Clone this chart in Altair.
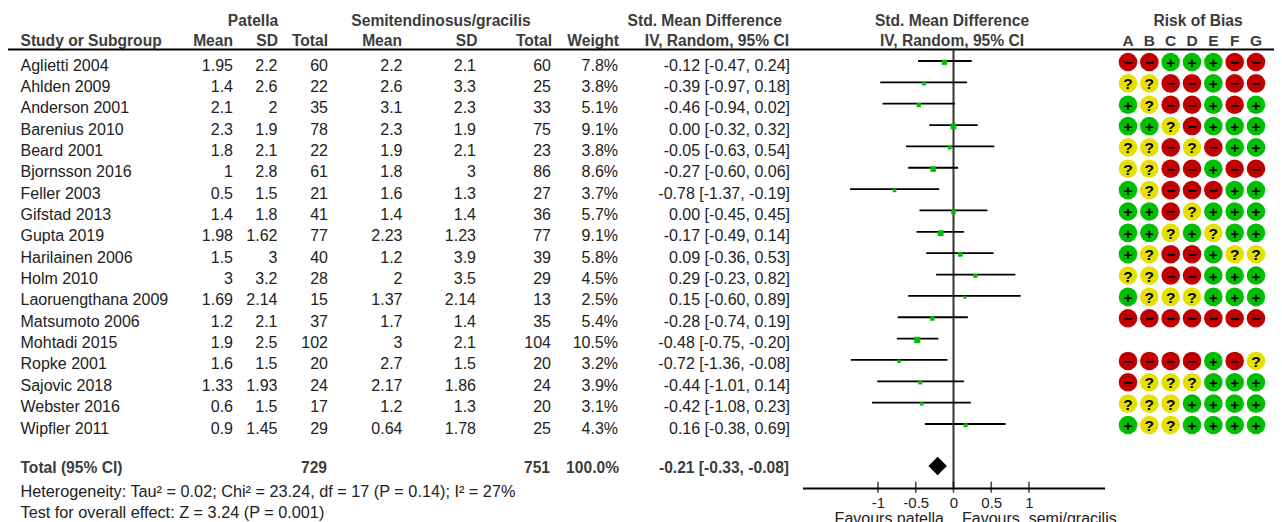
import altair as alt
import pandas as pd

FONT = "Liberation Sans"
studies = ["Aglietti 2004","Ahlden 2009","Anderson 2001","Barenius 2010","Beard 2001","Bjornsson 2016","Feller 2003","Gifstad 2013","Gupta 2019","Harilainen 2006","Holm 2010","Laoruengthana 2009","Matsumoto 2006","Mohtadi 2015","Ropke 2001","Sajovic 2018","Webster 2016","Wipfler 2011"]
mean1 = ["1.95","1.4","2.1","2.3","1.8","1","0.5","1.4","1.98","1.5","3","1.69","1.2","1.9","1.6","1.33","0.6","0.9"]
sd1 = ["2.2","2.6","2","1.9","2.1","2.8","1.5","1.8","1.62","3","3.2","2.14","2.1","2.5","1.5","1.93","1.5","1.45"]
total1 = ["60","22","35","78","22","61","21","41","77","40","28","15","37","102","20","24","17","29"]
mean2 = ["2.2","2.6","3.1","2.3","1.9","1.8","1.6","1.4","2.23","1.2","2","1.37","1.7","3","2.7","2.17","1.2","0.64"]
sd2 = ["2.1","3.3","2.3","1.9","2.1","3","1.3","1.4","1.23","3.9","3.5","2.14","1.4","2.1","1.5","1.86","1.3","1.78"]
total2 = ["60","25","33","75","23","86","27","36","77","39","29","13","35","104","20","24","20","25"]
weight = [7.8,3.8,5.1,9.1,3.8,8.6,3.7,5.7,9.1,5.8,4.5,2.5,5.4,10.5,3.2,3.9,3.1,4.3]
smd = [-0.12,-0.39,-0.46,0.00,-0.05,-0.27,-0.78,0.00,-0.17,0.09,0.29,0.15,-0.28,-0.48,-0.72,-0.44,-0.42,0.16]
ci_lo = [-0.47,-0.97,-0.94,-0.32,-0.63,-0.60,-1.37,-0.45,-0.49,-0.36,-0.23,-0.60,-0.74,-0.75,-1.36,-1.01,-1.08,-0.38]
ci_hi = [0.24,0.18,0.02,0.32,0.54,0.06,-0.19,0.45,0.14,0.53,0.82,0.89,0.19,-0.20,-0.08,0.14,0.23,0.69]
rob = ["--+++--","??--+--","+?--+-+","++?-+++","??-?-++","??--+--","+?---++","++-?+++","++?+?++","+?--+??","??--+++","+???+++","-------","       ","----+-?","-???+++","???++++","+??++++"]
letters = list("ABCDEFG")
pooled, pooled_lo, pooled_hi = -0.21, -0.33, -0.08
axis_ticks = [-1, -0.5, 0, 0.5, 1]

fmt = lambda v: f"{v:.2f}"
rows = list(range(len(studies)))
table = pd.DataFrame({
    "row": rows, "study": studies, "m1": mean1, "s1": sd1, "t1": total1,
    "m2": mean2, "s2": sd2, "t2": total2,
    "weight": weight, "w": [f"{w:.1f}%" for w in weight],
    "smd": smd, "lo": ci_lo, "hi": ci_hi,
    "ci": [f"{fmt(s)} [{fmt(l)}, {fmt(h)}]" for s, l, h in zip(smd, ci_lo, ci_hi)],
})
dots = pd.DataFrame([
    {"row": r, "domain": letters[i], "mark": {"+": "+", "-": "−", "?": "?"}[c], "kind": c}
    for r, s in enumerate(rob) for i, c in enumerate(s) if c != " "
])

TOTAL_ROW = 18.97
y_enc = alt.Y("row:Q", scale=alt.Scale(domain=[0, 17], range=[53, 416], zero=False, nice=False), axis=None)
x_forest = alt.Scale(domain=[-2, 2], range=[794.5, 1096.5], zero=False, nice=False)
x_rob = alt.Scale(type="point", domain=letters, range=[1120, 1248], padding=0)
x_none = lambda f: alt.X(f, scale=x_forest, axis=None)
BODY = 16
BOLD = 15.6
INK = "#222222"
HEAD = "#3c3c3c"


def col(field, px, align="right"):
    return alt.Chart(table).mark_text(align=align, baseline="middle", dy=4.5, font=FONT, fontSize=BODY, color=INK).encode(
        x=alt.value(px - 8), y=y_enc, text=f"{field}:N")


def label(txt, px, py, align="right", bold=True, size=None, color=None):
    return alt.Chart(pd.DataFrame({"t": [txt]})).mark_text(
        align=align, baseline="middle", font=FONT, fontSize=size or (BOLD if bold else BODY),
        fontWeight="bold" if bold else "normal", color=color or (HEAD if bold else INK)).encode(
        x=alt.value(px - 8), y=alt.value(py - 7), text="t:N")


layers = [col("study", 20.5, "left"), col("m1", 233), col("s1", 277.5), col("t1", 328),
          col("m2", 402.5), col("s2", 476), col("t2", 551), col("w", 618), col("ci", 790)]

heads = [("Patella", 253, 20, "center"), ("Semitendinosus/gracilis", 441, 20, "center"),
         ("Std. Mean Difference", 704.7, 20, "center"), ("Std. Mean Difference", 952, 20, "center"),
         ("Risk of Bias", 1198, 20, "center"),
         ("Study or Subgroup", 20.5, 40, "left"), ("Mean", 233, 40, "right"), ("SD", 278, 40, "right"),
         ("Total", 328, 40, "right"), ("Mean", 402, 40, "right"), ("SD", 477.5, 40, "right"),
         ("Total", 552, 40, "right"), ("Weight", 619, 40, "right"),
         ("IV, Random, 95% CI", 789, 40, "right"), ("IV, Random, 95% CI", 952, 40, "center")]
layers += [label(t, x, y, a) for t, x, y, a in heads]

# total row
tot_y = 467
layers += [label("Total (95% CI)", 20.5, tot_y, "left"), label("729", 327, tot_y),
           label("751", 550, tot_y), label("100.0%", 619, tot_y),
           label(f"{fmt(pooled)} [{fmt(pooled_lo)}, {fmt(pooled_hi)}]", 789, tot_y)]
layers += [label("Heterogeneity: Tau² = 0.02; Chi² = 23.24, df = 17 (P = 0.14); I² = 27%", 20.5, 491, "left", False, 16.25),
           label("Test for overall effect: Z = 3.24 (P = 0.001)", 20.5, 512, "left", False, 16.25),
           label("Favours patella", 944, 518, "right", False, 16),
           label("Favours\u00a0 semi/gracilis", 962, 518, "left", False, 16)]

# header rule
layers.append(alt.Chart(pd.DataFrame({"a": [0]})).mark_rule(color="black", strokeWidth=1.8).encode(
    x=alt.value(-1), x2=alt.value(1266), y=alt.value(41.5)))

# zero line
layers.append(alt.Chart(pd.DataFrame({"v": [0]})).mark_rule(color="#333333", strokeWidth=2).encode(
    x=x_none("v:Q"), y=alt.value(41.5), y2=alt.value(480)))

# CI lines, squares
layers.append(alt.Chart(table).mark_rule(color="black", strokeWidth=1.8).encode(
    x=x_none("lo:Q"), x2="hi:Q", y=y_enc))
layers.append(alt.Chart(table).mark_point(shape="square", filled=True, color="#00bf00", opacity=1, yOffset=1.3).encode(
    x=x_none("smd:Q"), y=y_enc,
    size=alt.Size("weight:Q", scale=alt.Scale(domain=[0, 10.5], range=[0, 38]), legend=None)))

# pooled diamond
layers.append(alt.Chart(pd.DataFrame({"p": [pooled], "row": [TOTAL_ROW]})).mark_point(
    shape="diamond", filled=True, color="black", opacity=1, size=340).encode(x=x_none("p:Q"), y=y_enc))

# axis
layers.append(alt.Chart(pd.DataFrame({"t": axis_ticks})).mark_tick(color="black", thickness=1.6, size=11, orient="vertical").encode(
    x=alt.X("t:Q", scale=x_forest, axis=alt.Axis(
        values=axis_ticks, title=None, grid=False, ticks=False, domain=True, domainColor="black", domainWidth=1.8,
        labelFont=FONT, labelFontSize=15, labelColor=INK, labelPadding=7, labelOverlap=False, labelFlush=False,
        labelExpr="datum.value + ''")),
    y=alt.value(479.2)))

# Risk of bias
layers.append(alt.Chart(pd.DataFrame({"d": letters})).mark_text(font=FONT, fontSize=15.5, fontWeight="bold", color=HEAD, baseline="middle").encode(
    x=alt.X("d:N", scale=x_rob, axis=None), y=alt.value(33), text="d:N"))
layers.append(alt.Chart(dots).mark_point(filled=True, opacity=1, size=345, shape="circle", yOffset=1).encode(
    x=alt.X("domain:N", scale=x_rob, axis=None), y=y_enc,
    color=alt.Color("kind:N", scale=alt.Scale(domain=["+", "-", "?"], range=["#00bf00", "#c00000", "#e6e000"]), legend=None)))
layers.append(alt.Chart(dots).mark_text(font=FONT, fontSize=15.5, fontWeight="bold", color="#000000", baseline="middle", dy=2).encode(
    x=alt.X("domain:N", scale=x_rob, axis=None), y=y_enc, text="mark:N"))

chart = alt.layer(*layers).resolve_scale(x="independent").properties(
    width=1266, height=480,
    autosize=alt.AutoSizeParams(type="none"),
    padding={"left": 0, "top": 0, "right": 0, "bottom": 34},
).configure_view(stroke=None)

chart.save("out.html", embed_options={"renderer": "svg", "actions": False})
